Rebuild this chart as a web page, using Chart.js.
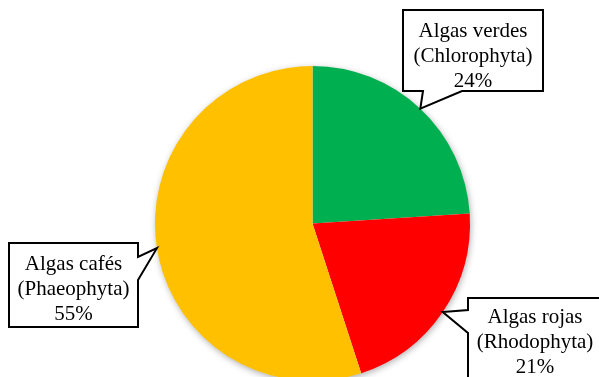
<!DOCTYPE html>
<html>
<head>
<meta charset="utf-8">
<script src="https://cdn.jsdelivr.net/npm/chart.js@4"></script>
<style>
  html, body { margin: 0; padding: 0; background: #fff; overflow: hidden; }
  canvas { display: block; }
</style>
</head>
<body>
<canvas id="algasChart" width="599" height="400"></canvas>
<script>
// grupos de algas y su porcentaje
const grupos = ['Algas verdes', 'Algas rojas', 'Algas cafés'];
const nombresCientificos = ['(Chlorophyta)', '(Rhodophyta)', '(Phaeophyta)'];
const porcentajes = [24, 21, 55];
const colores = ['#00B050', '#FF0000', '#FFC000'];

// cajas de llamada: rectángulo y base de la flecha (lado, desde, hasta)
const llamadas = [
    { x: 403, y: 10, w: 140, h: 81, lado: 'bottom', a: 423, b: 462 },
    { x: 468, y: 298, w: 134, h: 90, lado: 'left', a: 310, b: 333 },
    { x: 9, y: 243, w: 129, h: 84, lado: 'right', a: 257, b: 280 }
];

// sombra suave detrás del pastel
const sombraPastel = {
    id: 'sombraPastel',
    beforeDatasetsDraw(chart) {
        const arc = chart.getDatasetMeta(0).data[0];
        if (!arc) return;
        const { x, y, outerRadius } = arc.getProps(['x', 'y', 'outerRadius'], true);
        const ctx = chart.ctx;
        ctx.save();
        ctx.shadowColor = 'rgba(0,0,0,0.35)';
        ctx.shadowBlur = 7;
        ctx.shadowOffsetX = 1;
        ctx.shadowOffsetY = 2;
        ctx.fillStyle = '#ffffff';
        ctx.beginPath();
        ctx.arc(x, y, outerRadius - 0.5, 0, Math.PI * 2);
        ctx.fill();
        ctx.restore();
    }
};

// etiquetas tipo globo con flecha hacia el centro del arco
const globos = {
    id: 'globos',
    afterDatasetsDraw(chart) {
        const ctx = chart.ctx;
        const meta = chart.getDatasetMeta(0);
        meta.data.forEach((arc, i) => {
            const p = arc.getProps(['x', 'y', 'startAngle', 'endAngle', 'outerRadius'], true);
            const mid = (p.startAngle + p.endAngle) / 2;
            const tx = p.x + Math.cos(mid) * p.outerRadius;
            const ty = p.y + Math.sin(mid) * p.outerRadius;
            const c = llamadas[i];
            const r = c.x + c.w, btm = c.y + c.h;

            ctx.save();
            ctx.beginPath();
            ctx.moveTo(c.x, c.y);
            ctx.lineTo(r, c.y);
            if (c.lado === 'right') {
                ctx.lineTo(r, c.a); ctx.lineTo(tx, ty); ctx.lineTo(r, c.b);
            }
            ctx.lineTo(r, btm);
            if (c.lado === 'bottom') {
                ctx.lineTo(c.b, btm); ctx.lineTo(tx, ty); ctx.lineTo(c.a, btm);
            }
            ctx.lineTo(c.x, btm);
            if (c.lado === 'left') {
                ctx.lineTo(c.x, c.b); ctx.lineTo(tx, ty); ctx.lineTo(c.x, c.a);
            }
            ctx.closePath();
            ctx.fillStyle = '#ffffff';
            ctx.fill();
            ctx.lineWidth = 2;
            ctx.lineJoin = 'miter';
            ctx.strokeStyle = '#000000';
            ctx.stroke();

            const lineas = [grupos[i], nombresCientificos[i], porcentajes[i] + '%'];
            ctx.fillStyle = '#000000';
            ctx.font = '21px "Liberation Serif", "Times New Roman", serif';
            ctx.textAlign = 'center';
            ctx.textBaseline = 'alphabetic';
            const cx = c.x + c.w / 2;
            const primera = i === 1 ? c.y + 25 : c.y + 27;
            lineas.forEach((t, k) => ctx.fillText(t, cx, primera + k * 25));
            ctx.restore();
        });
    }
};

new Chart(document.getElementById('algasChart'), {
    type: 'pie',
    data: {
        labels: grupos,
        datasets: [{
            data: porcentajes,
            backgroundColor: colores,
            borderWidth: 0
        }]
    },
    options: {
        responsive: false,
        animation: false,
        layout: { padding: { left: 155, right: 129, top: 66, bottom: 19 } },
        plugins: {
            legend: { display: false },
            tooltip: { enabled: false }
        }
    },
    plugins: [sombraPastel, globos]
});
</script>
</body>
</html>
